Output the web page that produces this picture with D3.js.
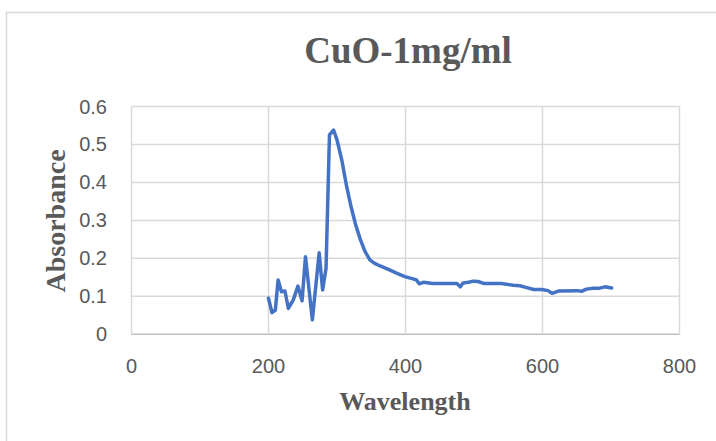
<!DOCTYPE html>
<html><head><meta charset="utf-8">
<script src="https://cdn.jsdelivr.net/npm/d3@7"></script>
<style>body{margin:0;background:#fff}svg{display:block}</style>
</head><body>
<svg id="c" width="716" height="441"></svg>
<script>
const title = "CuO-1mg/ml";
const xLabel = "Wavelength";
const yLabel = "Absorbance";
const xTicks = [0, 200, 400, 600, 800];
const yTicks = [0, 0.1, 0.2, 0.3, 0.4, 0.5, 0.6];
const wavelength = [200,205,210,214,219,224,229,236,243,249,254,264,274,279,284,289,295,300,307,314,320,327,334,341,348,355,363,375,387,399,411,416,420,426,440,475,480,484,492,499,506,514,540,557,567,577,587,599,608,614,623,652,657,664,674,682,691,701];
const absorbance = [0.095,0.057,0.064,0.143,0.112,0.114,0.068,0.090,0.127,0.088,0.204,0.038,0.215,0.117,0.174,0.525,0.538,0.512,0.459,0.39,0.34,0.29,0.25,0.218,0.196,0.187,0.180,0.171,0.161,0.152,0.146,0.143,0.133,0.137,0.134,0.134,0.125,0.135,0.137,0.140,0.139,0.134,0.134,0.129,0.128,0.123,0.118,0.118,0.115,0.108,0.114,0.115,0.113,0.119,0.121,0.121,0.125,0.122];

const svg = d3.select("#c");
svg.append("rect").attr("x",6.5).attr("y",12.5).attr("width",800).attr("height",500)
  .attr("fill","#fff").attr("stroke","#d9d9d9").attr("stroke-width",1.5);

const x = d3.scaleLinear().domain([0,800]).range([131.5,679.5]);
const y = d3.scaleLinear().domain([0,0.6]).range([334.3,106.5]);

const grid = svg.append("g");
grid.selectAll("line.h").data(yTicks).join("line")
  .attr("x1",x(0)).attr("x2",x(800)).attr("y1",d=>y(d)).attr("y2",d=>y(d))
  .attr("stroke",d=>d===0?"#bfbfbf":"#d9d9d9").attr("stroke-width",1.5);
grid.selectAll("line.v").data(xTicks).join("line")
  .attr("y1",y(0)).attr("y2",y(0.6)).attr("x1",d=>x(d)).attr("x2",d=>x(d))
  .attr("stroke","#d9d9d9").attr("stroke-width",1.5);

const font = "'Liberation Sans', Arial, sans-serif";
svg.append("g").selectAll("text").data(yTicks).join("text")
  .attr("x",107).attr("y",d=>y(d)+7).attr("text-anchor","end")
  .attr("font-family",font).attr("font-size",20).attr("fill","#595959")
  .text(d=>d===0?"0":d3.format(".1f")(d));
svg.append("g").selectAll("text").data(xTicks).join("text")
  .attr("x",d=>x(d)).attr("y",373).attr("text-anchor","middle")
  .attr("font-family",font).attr("font-size",20).attr("fill","#595959")
  .text(d=>d);

const serif = "'Liberation Serif', 'Times New Roman', serif";
svg.append("text").attr("x",408).attr("y",63).attr("text-anchor","middle")
  .attr("font-family",serif).attr("font-weight","bold").attr("font-size",37).attr("fill","#595959").text(title);
svg.append("text").attr("x",405).attr("y",410).attr("text-anchor","middle")
  .attr("font-family",serif).attr("font-weight","bold").attr("font-size",26).attr("fill","#595959").text(xLabel);
svg.append("text").attr("transform","translate(65,221) rotate(-90)").attr("text-anchor","middle")
  .attr("font-family",serif).attr("font-weight","bold").attr("font-size",28).attr("fill","#595959").text(yLabel);

const pts = wavelength.map((w,i)=>[w,absorbance[i]]);
svg.append("path").datum(pts)
  .attr("d",d3.line().x(d=>x(d[0])).y(d=>y(d[1])))
  .attr("fill","none").attr("stroke","#4472C4").attr("stroke-width",3.5)
  .attr("stroke-linejoin","round").attr("stroke-linecap","round");
</script>
</body></html>
